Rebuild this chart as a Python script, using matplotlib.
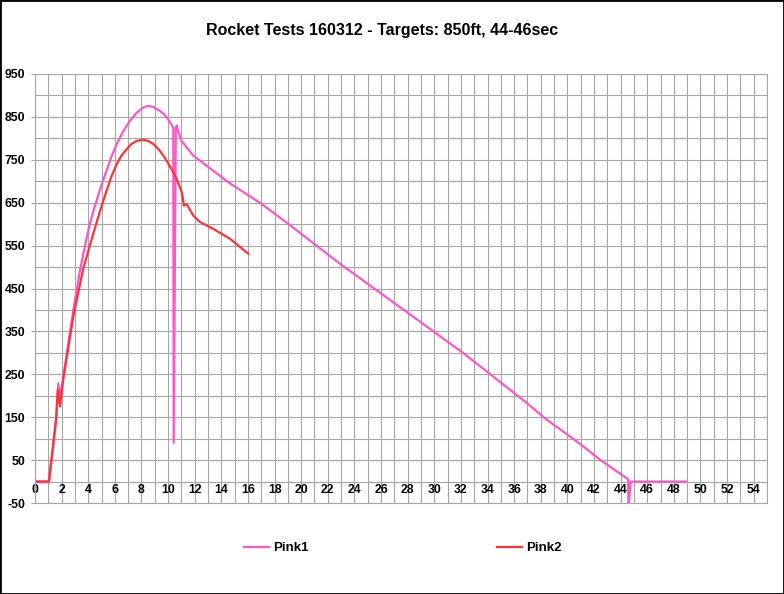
import matplotlib
matplotlib.use("Agg")
import matplotlib.pyplot as plt
from matplotlib.patches import Rectangle
from matplotlib.lines import Line2D
import numpy as np

title = "Rocket Tests 160312 - Targets: 850ft, 44-46sec"
series_names = ["Pink1", "Pink2"]

pink1_t = [0, 1.05, 1.58, 1.75, 1.88, 2.13, 2.88, 3.38, 3.63, 4.0, 4.3, 4.63, 5.0,
           5.38, 5.75, 6.14, 6.6, 7.14, 7.64, 8.14, 8.51, 8.9, 9.39, 9.7, 10.0,
           10.39, 10.42, 10.58, 10.66, 10.77, 11.02, 11.4, 11.89, 12.4, 14.65,
           15.4, 16.9, 19.03, 22.9, 27.9, 32.2, 36.8, 38.3, 40.2, 41.2, 42.45,
           43.7, 44.55, 44.6, 44.75, 48.9]
pink1_h = [0, 0, 144, 229, 195, 245, 400, 492, 531, 585, 622, 655, 692,
           725, 758, 787, 815, 841, 860, 872, 876, 873, 864, 856, 845,
           825, 90, 825, 830, 815, 794, 779, 760, 748, 695,
           680, 650, 601, 508, 396, 299, 187, 148, 105, 82, 51,
           24, 6, -60, 0, 0]

pink2_t = [0, 1.05, 1.58, 1.72, 1.88, 2.13, 2.88, 3.38, 3.63, 4.38, 4.9, 5.38,
           5.75, 6.14, 6.5, 6.89, 7.25, 7.64, 8.14, 8.5, 8.89, 9.25, 9.64, 10.0,
           10.39, 10.65, 10.89, 11.05, 11.19, 11.4, 11.89, 12.4, 13.4, 14.65, 16.03]
pink2_h = [0, 0, 144, 214, 175, 240, 385, 460, 497, 578, 632, 678,
           712, 740, 760, 775, 787, 794, 797, 794, 787, 776, 760, 742,
           721, 705, 686, 672, 643, 647, 620, 605, 589, 566, 531]

x_ticks = list(range(0, 55, 2))
y_ticks = list(range(-50, 951, 100))

c1 = "#FF55C8"
c2 = "#FF3333"
grid_c = "#A6A6A6"

plt.rcParams['font.family'] = ['Liberation Sans', 'DejaVu Sans']
plt.rcParams['axes.unicode_minus'] = False
fig = plt.figure(figsize=(7.84, 5.94), dpi=100)
ax = fig.add_axes([35/784, 91/594, 732/784, 429/594])

ax.plot(pink1_t, pink1_h, color=c1, lw=1.6)
ax.plot(pink2_t, pink2_h, color=c2, lw=1.6)

ax.set_xlim(0, 55)
ax.set_ylim(-50, 950)
ax.set_xticks(x_ticks)
ax.set_xticks(np.arange(0, 56, 1), minor=True)
ax.set_yticks(y_ticks)
ax.set_yticks(np.arange(-50, 951, 50), minor=True)
ax.grid(True, which='both', color=grid_c, lw=0.8)
ax.set_axisbelow(True)
for s in ax.spines.values():
    s.set_color(grid_c)
    s.set_linewidth(0.8)

ax.tick_params(axis='y', which='major', length=3, color=grid_c, pad=4,
               labelsize=8.8)
ax.tick_params(axis='y', which='minor', length=0)
ax.tick_params(axis='x', which='both', length=0, pad=-13.5, labelsize=8.8)
for lab in ax.get_xticklabels() + ax.get_yticklabels():
    lab.set_fontweight('bold')

fig.text(382/784, 1 - 30/594, title, ha='center', va='center',
         fontsize=11.5, fontweight='bold')

handles = [Line2D([], [], color=c1, lw=1.6), Line2D([], [], color=c2, lw=1.6)]
leg = fig.legend(handles, series_names, loc='center', ncol=2,
                 bbox_to_anchor=(403/784, 1 - 548/594), frameon=False,
                 prop={'weight': 'bold', 'size': 9.5},
                 handlelength=1.9, handletextpad=0.3, columnspacing=14.3)

fig.add_artist(Rectangle((0, 0), 1, 1, transform=fig.transFigure, fill=False,
                         ec='black', lw=2))

fig.savefig("out.png", dpi=100)
